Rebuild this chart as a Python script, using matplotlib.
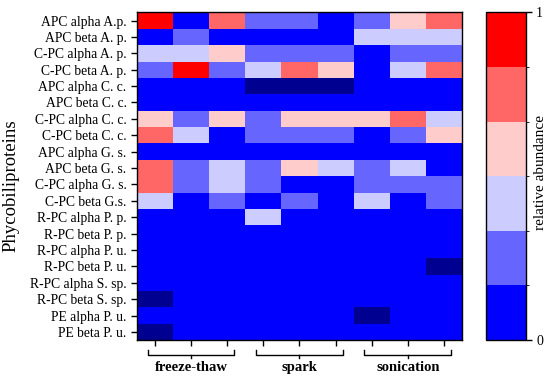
import numpy as np
import matplotlib
matplotlib.use("Agg")
import matplotlib.pyplot as plt
from matplotlib.colors import ListedColormap, BoundaryNorm
from matplotlib.transforms import blended_transform_factory

plt.rcParams['font.family'] = ['Liberation Serif', 'DejaVu Serif']

proteins = [
    "APC alpha A.p.", "APC beta A. p.", "C-PC alpha A. p.", "C-PC beta A. p.",
    "APC alpha C. c.", "APC beta C. c.", "C-PC alpha C. c.", "C-PC beta C. c.",
    "APC alpha G. s.", "APC beta G. s.", "C-PC alpha G. s.", "C-PC beta G.s.",
    "R-PC alpha P. p.", "R-PC beta P. p.", "R-PC alpha P. u.", "R-PC beta P. u.",
    "R-PC alpha S. sp.", "R-PC beta S. sp.", "PE alpha P. u.", "PE beta P. u.",
]
methods = ["freeze-thaw", "spark", "sonication"]

# relative abundance level per cell (0 = lowest bin ... 5 = highest bin), None = not detected
freeze_thaw = [
    [5, 0, 4], [0, 1, 0], [2, 2, 3], [1, 5, 1], [0, 0, 0],
    [0, 0, 0], [3, 1, 3], [4, 2, 0], [0, 0, 0], [4, 1, 2],
    [4, 1, 2], [2, 0, 1], [0, 0, 0], [0, 0, 0], [0, 0, 0],
    [0, 0, 0], [0, 0, 0], [None, 0, 0], [0, 0, 0], [None, 0, 0],
]
spark = [
    [1, 1, 0], [0, 0, 0], [1, 1, 1], [2, 4, 3], [None, None, None],
    [0, 0, 0], [1, 3, 3], [1, 1, 1], [0, 0, 0], [1, 3, 2],
    [1, 0, 0], [0, 1, 0], [2, 0, 0], [0, 0, 0], [0, 0, 0],
    [0, 0, 0], [0, 0, 0], [0, 0, 0], [0, 0, 0], [0, 0, 0],
]
sonication = [
    [1, 3, 4], [2, 2, 2], [0, 1, 1], [0, 2, 4], [0, 0, 0],
    [0, 0, 0], [3, 4, 2], [0, 1, 3], [0, 0, 0], [1, 2, 0],
    [1, 1, 1], [2, 0, 1], [0, 0, 0], [0, 0, 0], [0, 0, 0],
    [0, 0, None], [0, 0, 0], [0, 0, 0], [None, 0, 0], [0, 0, 0],
]

colors = ["#0000ff", "#6666ff", "#ccccff", "#ffcccc", "#ff6666", "#ff0000"]

lv = np.hstack([np.array(g, dtype=float) for g in (freeze_thaw, spark, sonication)])
vals = (lv + 0.5) / 6.0

cmap = ListedColormap(colors)
cmap.set_bad("#000090")
norm = BoundaryNorm(np.linspace(0, 1, 7), cmap.N)

fig = plt.figure(figsize=(5.5, 3.8), dpi=100)
ax = fig.add_axes([0.249, 0.105, 0.591, 0.8625])
cax = fig.add_axes([0.883, 0.105, 0.0727, 0.8625])

mesh = ax.pcolormesh(np.ma.masked_invalid(vals), cmap=cmap, norm=norm)
ax.set_xlim(0, vals.shape[1])
ax.set_ylim(vals.shape[0], 0)
ax.set_yticks(np.arange(len(proteins)) + 0.5)
ax.set_yticklabels(proteins, fontsize=9.8)
ax.set_xticks(np.arange(vals.shape[1]) + 0.5)
ax.set_xticklabels([])
ax.tick_params(length=4, width=1, direction="out")
for s in ax.spines.values():
    s.set_linewidth(1)
ax.set_ylabel("Phycobiliproteins", fontsize=13.5)
ax.yaxis.set_label_coords(-0.36, 0.47)

# group brackets under the columns
tr = blended_transform_factory(ax.transData, ax.transAxes)
for i, m in enumerate(methods):
    x0, x1 = 3 * i + 0.3, 3 * i + 2.7
    xc = 3 * i + 1.5
    ax.plot([x0, x0, x1, x1], [-0.030, -0.044, -0.044, -0.030], color="black",
            lw=1, transform=tr, clip_on=False)
    ax.plot([xc, xc], [-0.044, -0.056], color="black", lw=1, transform=tr, clip_on=False)
    ax.text(xc, -0.085, m, transform=tr, ha="center", va="center",
            fontsize=10.5, fontweight="bold")

cb = fig.colorbar(mesh, cax=cax, ticks=[0, 1])
cb.ax.set_yticklabels(["0", "1"], fontsize=10)
cb.set_label("relative abundance", fontsize=11)
cax.yaxis.set_label_coords(1.22, 0.51)
cb.outline.set_linewidth(1)
cax.tick_params(length=4, width=1)

fig.savefig("out.png", dpi=100)
